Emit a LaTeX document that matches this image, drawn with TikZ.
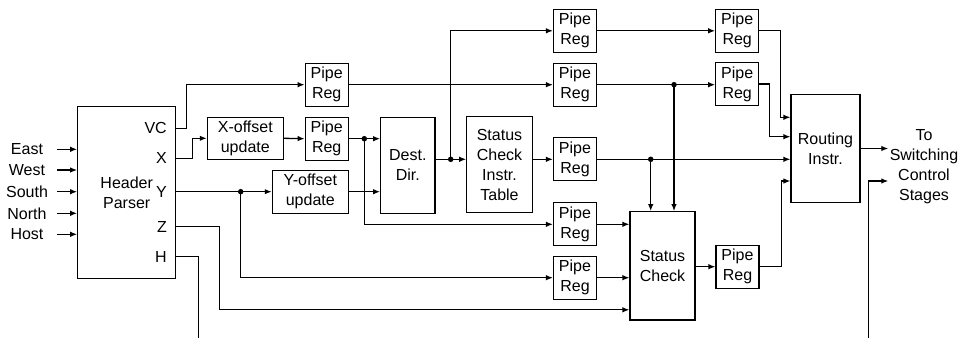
\documentclass[tikz,border=0pt]{standalone}
\usepackage{fontspec}
\setmainfont{Liberation Sans}
\usetikzlibrary{arrows.meta,positioning}
\tikzset{
    blk/.style={
        draw,
        line width=1.1pt,
        align=center,
        inner sep=0pt,
        font=\fontsize{16}{20}\selectfont
    },
    % pipeline register box
    pipereg/.style={blk, minimum width=43pt, minimum height=43pt},
    sig/.style={
        line width=1.3pt,
        -{Latex[length=7pt, width=5.5pt]}
    },
    wire/.style={line width=1.3pt},
    lbl/.style={inner sep=0pt, font=\fontsize{16}{20}\selectfont},
    jn/.style={circle, fill, inner sep=0pt, minimum size=5.5pt}
}
\begin{document}
\begin{tikzpicture}[x=1pt,y=-1pt]
   \useasboundingbox (0,0) rectangle (963,340);
   % blocks
   \node[blk, minimum width=98pt, minimum height=171.6pt] (hp) at (126.7,192.5) {Header\\Parser};
   \node[blk, minimum width=76pt, minimum height=42pt] (xoff) at (245.3,138.3) {X-offset\\update};
   \node[blk, minimum width=76pt, minimum height=43pt] (yoff) at (310.3,191.7) {Y-offset\\update};
   \node[pipereg] (pr1) at (326.7,84.7) {Pipe\\Reg};
   \node[pipereg] (pr2) at (326.7,138.7) {Pipe\\Reg};
   \node[blk, minimum width=54.3pt, minimum height=96pt] (dd) at (407.8,165.3) {Dest.\\Dir.};
   \node[blk, minimum width=65.6pt, minimum height=96pt] (sci) at (499.5,164.7) {Status\\Check\\Instr.\\Table};
   \node[pipereg] (pa) at (575,30.8) {Pipe\\Reg};
   \node[pipereg] (pb) at (575,84.7) {Pipe\\Reg};
   \node[pipereg] (pc) at (575,159.3) {Pipe\\Reg};
   \node[pipereg] (pd) at (575,224.3) {Pipe\\Reg};
   \node[pipereg] (pe) at (575,277.7) {Pipe\\Reg};
   \node[blk, minimum width=65pt, minimum height=108.3pt] (sc) at (662.5,265.8) {Status\\Check};
   \node[pipereg] (pf) at (737.2,30.8) {Pipe\\Reg};
   \node[pipereg] (pg) at (737.2,84) {Pipe\\Reg};
   \node[pipereg] (ph) at (737.5,266.7) {Pipe\\Reg};
   \node[blk, minimum width=69pt, minimum height=108.4pt] (ri) at (825.5,148.5) {Routing\\Instr.};
   \node[lbl, align=center] (dest) at (924,166.5) {To\\Switching\\Control\\Stages};

   % parser ports and inputs
   \foreach \nm/\yy in {VC/128.3, X/158.3, Y/191.7, Z/226.7, H/256.7}
      \node[lbl, anchor=east] (lb\nm) at (167,\yy) {\nm};
   \foreach \nm/\yy in {East/149.3, West/170, South/191.7, North/213.3, Host/234.3} {
      \node[lbl] (\nm) at (27,\yy) {\nm};
      \coordinate (\nm-s) at (57,\yy);
      \draw[sig] (\nm-s) -- (hp.west |- \nm-s);
   }

   % junctions
   \node[jn] (dY) at (240.7,191.7) {};
   \node[jn] (dX) at (364.3,138.7) {};
   \node[jn] (dD) at (450.7,159.3) {};
   \node[jn] (dB) at (674,84.7) {};
   \node[jn] (dC) at (650.7,159.3) {};

   % wires
   \draw[sig] (hp.east |- lbVC) -- ++(10.3,0) |- (pr1.west);
   \draw[sig] (hp.east |- lbX) -- ++(16,0) |- (xoff.west);
   \draw[sig] (hp.east |- lbY) -- (yoff.west |- lbY);
   \draw[sig] (dY.center) |- (pe.west);
   \draw[sig] (hp.east |- lbZ) -- ++(43.3,0) |- ([yshift=10.7pt]sc.south west);
   \coordinate (hEnd) at (198.3,338);
   \draw[wire] (hp.east |- lbH) -| (hEnd);
   \draw[sig] (xoff.east) -- (pr2.west);
   \draw[sig] (pr1.east) -- (pb.west);
   \draw[sig] (pr2.east) -- (dd.west |- pr2.east);
   \draw[sig] (dX.center) |- (pd.west);
   \draw[sig] (yoff.east) -- (dd.west |- yoff.east);
   \draw[sig] (dd.east |- pc) -- (sci.west |- pc);
   \draw[sig] (dD.center) |- (pa.west);
   \draw[sig] (sci.east |- pc) -- (pc.west);
   \draw[sig] (pa.east) -- (pf.west);
   \draw[sig] (pb.east) -- (pg.west |- pb.east);
   \draw[sig] (dB.center) -- (dB |- sc.north);
   \draw[sig] (pc.east) -- (ri.west |- pc);
   \draw[sig] (dC.center) -- (dC |- sc.north);
   \draw[sig] (pd.east) -- (sc.west |- pd);
   \draw[sig] (pe.east) -- (sc.west |- pe);
   \draw[sig] (sc.east |- ph) -- (ph.west);
   \draw[sig] (pf.east) -| ([xshift=-10pt]ri.west |- 0,117.3) -- (ri.west |- 0,117.3);
   \draw[sig] (pg.east) -| ([xshift=-21pt]ri.west |- 0,136.7) -- (ri.west |- 0,136.7);
   \draw[sig] (ph.east) -| ([xshift=-9.3pt]ri.west |- 0,181) -- (ri.west |- 0,181);
   \coordinate (toSw) at (888.3,148.5);
   \draw[sig] (ri.east) -- (toSw);
   \coordinate (ctlIn) at (868.3,338);
   \coordinate (ctlOut) at (888.3,181);
   \draw[sig] (ctlIn) |- (ctlOut);
\end{tikzpicture}
\end{document}
